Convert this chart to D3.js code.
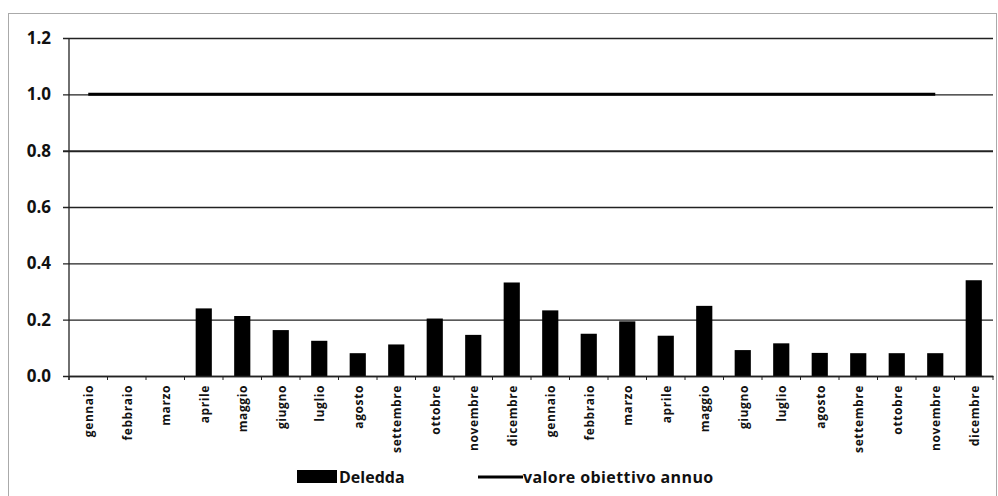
<!DOCTYPE html>
<html>
<head>
<meta charset="utf-8">
<script src="https://cdn.jsdelivr.net/npm/d3@7"></script>
<style>
  body { margin: 0; background: #fff; }
  svg { display: block; }
</style>
</head>
<body>
<div id="chart"></div>
<script>
var W = 998;
var H = 496;
var FONT = "'Open Sans', 'DejaVu Sans', sans-serif";

// months, two years in a row
var mesi = ["gennaio", "febbraio", "marzo", "aprile", "maggio", "giugno", "luglio",
  "agosto", "settembre", "ottobre", "novembre", "dicembre",
  "gennaio", "febbraio", "marzo", "aprile", "maggio", "giugno", "luglio",
  "agosto", "settembre", "ottobre", "novembre", "dicembre"];
var deledda = [0, 0, 0, 0.24, 0.213, 0.163, 0.125, 0.081, 0.112, 0.204, 0.146, 0.332,
  0.233, 0.15, 0.194, 0.143, 0.249, 0.092, 0.116, 0.082, 0.081, 0.081, 0.081, 0.34];
var obiettivo = [1, 1, 1, 1, 1, 1, 1, 1, 1, 1, 1, 1,
  1, 1, 1, 1, 1, 1, 1, 1, 1, 1, 1, null];
var yTicks = [0, 0.2, 0.4, 0.6, 0.8, 1.0, 1.2];

var PL = 69, PR = 993, PT = 38, PB = 376;

var svg = d3.select("#chart").append("svg")
  .attr("width", W).attr("height", H);

// outer dotted frame
svg.append("rect")
  .attr("x", 8.5).attr("y", 13.5)
  .attr("width", 988).attr("height", 500)
  .attr("fill", "none")
  .attr("stroke", "#555")
  .attr("stroke-width", 1)
  .attr("stroke-dasharray", "1,1");

var x = d3.scaleBand().domain(d3.range(mesi.length)).range([PL, PR]);
var y = d3.scaleLinear().domain([0, 1.2]).range([PB, PT]);

// gridlines + y labels
var yAxis = d3.axisLeft(y).tickValues(yTicks)
  .tickSize(-(PR - PL)).tickPadding(18)
  .tickFormat(d3.format(".1f"));
var gy = svg.append("g").attr("transform", "translate(" + PL + ",0)").call(yAxis);
gy.select(".domain").remove();
gy.selectAll(".tick line")
  .attr("x1", -6)
  .attr("stroke", "#222")
  .attr("stroke-width", function(d) { return d === 0.8 ? 2 : 1.3; });
gy.selectAll(".tick text")
  .attr("font-family", FONT).attr("font-weight", "bold")
  .attr("font-size", 17).attr("fill", "#111");

// y axis line
svg.append("line")
  .attr("x1", PL).attr("x2", PL)
  .attr("y1", PT).attr("y2", PB + 4)
  .attr("stroke", "#222").attr("stroke-width", 1.3);

// bars
svg.selectAll("rect.bar")
  .data(deledda)
  .enter().append("rect")
  .attr("class", "bar")
  .attr("x", function(d, i) { return x(i) + x.bandwidth() * 0.29; })
  .attr("width", x.bandwidth() * 0.42)
  .attr("y", function(d) { return y(d); })
  .attr("height", function(d) { return y(0) - y(d); })
  .attr("fill", "#000");

// x axis
var xAxis = d3.axisBottom(x).tickSize(0).tickPadding(0)
  .tickFormat(function(i) { return mesi[i]; });
var gx = svg.append("g").attr("transform", "translate(0," + PB + ")").call(xAxis);
gx.select(".domain").attr("stroke", "#222").attr("stroke-width", 1.5);
gx.selectAll(".tick text")
  .attr("font-family", FONT).attr("font-weight", "bold")
  .attr("font-size", 12).attr("fill", "#111")
  .attr("letter-spacing", 0.6)
  .attr("text-anchor", "end")
  .attr("transform", "translate(5,9) rotate(-90)")
  .attr("dy", 0).attr("dx", 0);

// category boundary ticks
svg.append("g").selectAll("line")
  .data(d3.range(mesi.length + 1))
  .enter().append("line")
  .attr("x1", function(i) { return PL + i * x.step(); })
  .attr("x2", function(i) { return PL + i * x.step(); })
  .attr("y1", PB).attr("y2", PB + 4)
  .attr("stroke", "#222").attr("stroke-width", 1);

// target line
var line = d3.line()
  .defined(function(d) { return d !== null; })
  .x(function(d, i) { return x(i) + x.bandwidth() / 2; })
  .y(function(d) { return y(d); });
svg.append("path")
  .datum(obiettivo)
  .attr("d", line)
  .attr("fill", "none")
  .attr("stroke", "#000")
  .attr("stroke-width", 3);

// legend
var lg = svg.append("g");
lg.append("rect")
  .attr("x", 297).attr("y", 470).attr("width", 40).attr("height", 13)
  .attr("fill", "#000");
lg.append("text")
  .attr("x", 339).attr("y", 483)
  .attr("font-family", FONT).attr("font-weight", "bold").attr("font-size", 16)
  .attr("fill", "#111").text("Deledda");
lg.append("line")
  .attr("x1", 478).attr("x2", 523).attr("y1", 477).attr("y2", 477)
  .attr("stroke", "#000").attr("stroke-width", 3);
lg.append("text")
  .attr("x", 523).attr("y", 483)
  .attr("font-family", FONT).attr("font-weight", "bold").attr("font-size", 16)
  .attr("letter-spacing", 0.4)
  .attr("fill", "#111").text("valore obiettivo annuo");
</script>
</body>
</html>
